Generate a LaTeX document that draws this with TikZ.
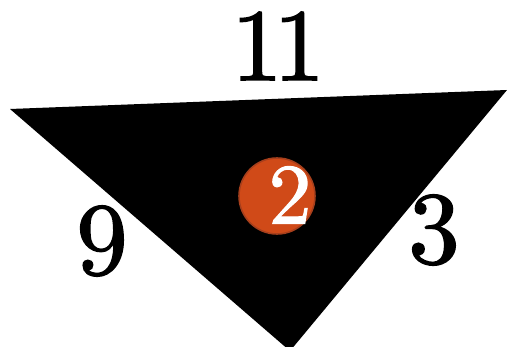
\documentclass[tikz,border=0pt]{standalone}
\usepackage{xcolor}
\usepackage{fontspec}
\usepackage{tikz}
\newfontfamily\heavydigits[FakeBold=1.5]{lmroman10-regular.otf}
\definecolor{badgeorange}{HTML}{D04A18}
\definecolor{badgeedge}{HTML}{A63F1C}

\begin{document}
\begin{tikzpicture}[x=0.025cm,y=-0.025cm,
  sidelab/.style={inner sep=0pt,font=\heavydigits,scale=7.3},
  badge/.style={circle,fill=badgeorange,draw=badgeedge,line width=1.1pt,minimum size=1.9cm,inner sep=0pt}]
\useasboundingbox (0,0) rectangle (507,347);
\clip (0,0) rectangle (507,347);
\coordinate (tl) at (10,109);
\coordinate (tr) at (507,90);
\coordinate (bt) at (290,351);
\fill (tl)--(tr)--(bt)--cycle;
\node[badge] (mark) at (277,196) {};
\node[inner sep=0pt,font=\heavydigits,scale=6.1,text=white] (num) at (290,195) {2};
\node[sidelab] (top) at (278,46) {1\kern-0.09em 1};
\node[sidelab] (left) at (102,241) {9};
\node[sidelab] (right) at (434,230) {3};
\end{tikzpicture}
\end{document}
